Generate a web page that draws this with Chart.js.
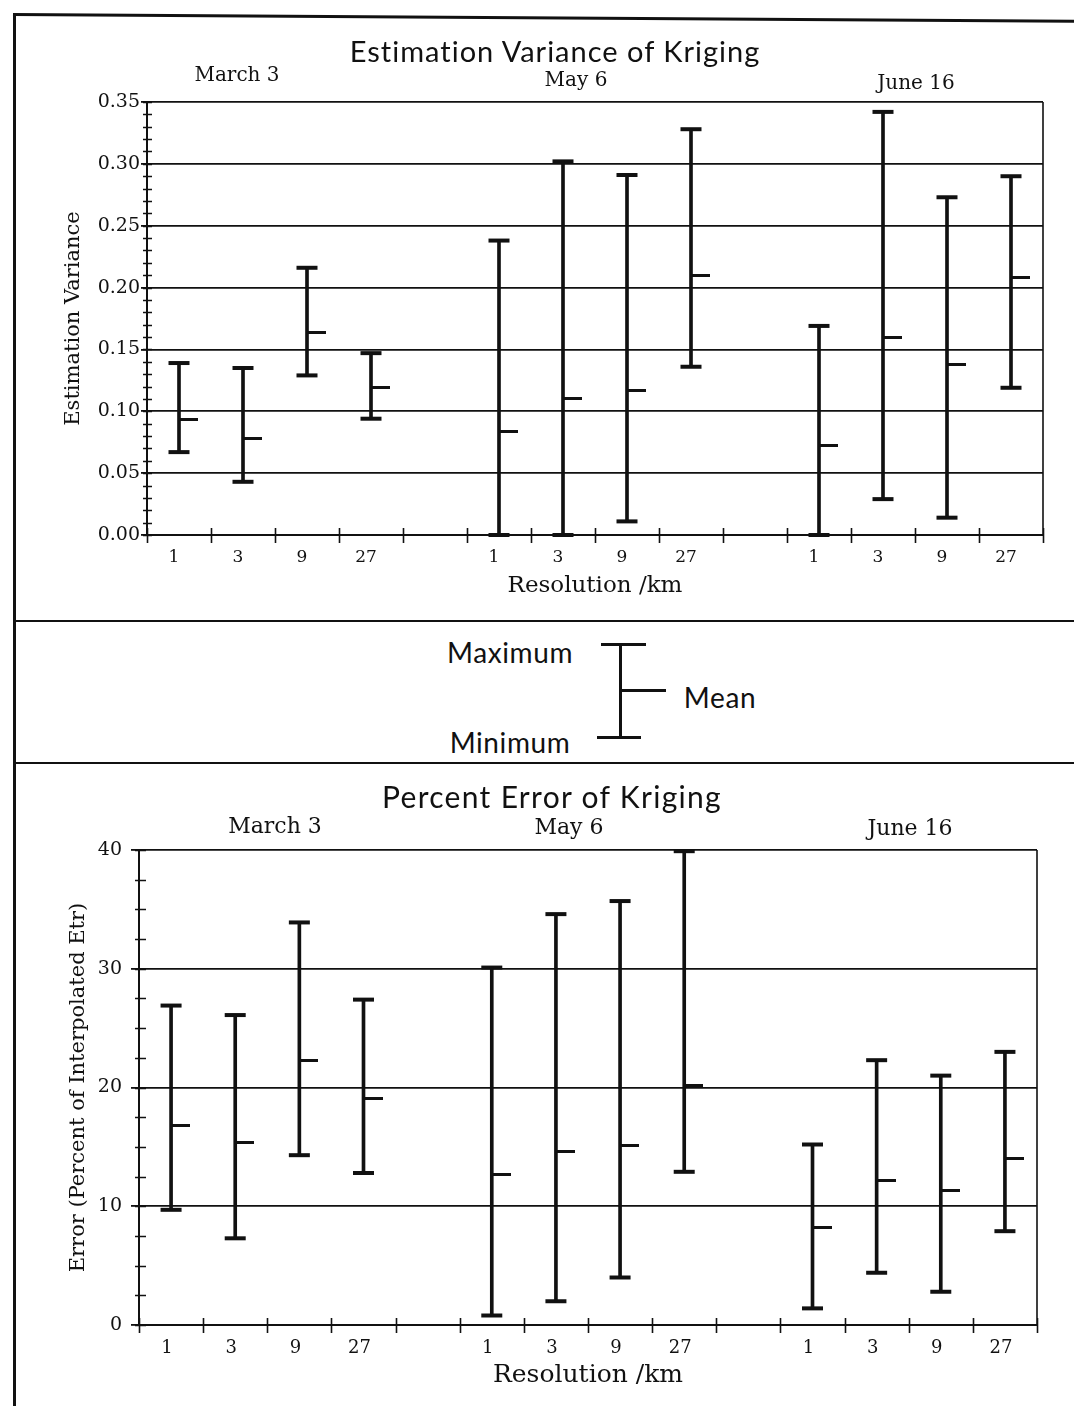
<!DOCTYPE html>
<html>
<head>
<meta charset="utf-8">
<script src="https://cdn.jsdelivr.net/npm/chart.js@4.4.1/dist/chart.umd.min.js"></script>
<style>
html,body{margin:0;padding:0;background:#fff;}
#page{position:relative;width:1074px;height:1406px;overflow:hidden;background:#fff;}
.t{position:absolute;transform:translate(-50%,-50%);white-space:nowrap;color:#111;line-height:1;z-index:2;}
.serif{font-family:"DejaVu Serif",serif;}
.sans{font-family:Lato,"Open Sans",sans-serif;}
.ln{position:absolute;background:#111;z-index:2;}
canvas{position:absolute;left:0;z-index:1;}
</style>
</head>
<body>
<div id="page">
  <!-- page frame -->
  <div class="ln" style="left:13px;top:14px;width:3px;height:1392px"></div>
  <div class="ln" style="left:13px;top:13px;width:1065px;height:3px;transform-origin:0 0;transform:rotate(0.36deg)"></div>
  <div class="ln" style="left:15px;top:620px;width:1059px;height:2px"></div>
  <div class="ln" style="left:15px;top:762px;width:1059px;height:2px"></div>

  <!-- top chart texts -->
  <div class="t sans" style="left:555px;top:50px;font-size:29px;letter-spacing:1px">Estimation Variance of Kriging</div>
  <div class="t serif" style="left:237px;top:74px;font-size:20px">March 3</div>
  <div class="t serif" style="left:576px;top:79px;font-size:20px">May 6</div>
  <div class="t serif" style="left:916px;top:82px;font-size:20px">June 16</div>

  <!-- legend -->
  <div class="t sans" style="left:510px;top:652px;font-size:28px;letter-spacing:0.6px">Maximum</div>
  <div class="t sans" style="left:720px;top:697px;font-size:28px;letter-spacing:0.6px">Mean</div>
  <div class="t sans" style="left:510px;top:742px;font-size:28px;letter-spacing:0.6px">Minimum</div>
  <div class="ln" style="left:619px;top:644px;width:3px;height:94px"></div>
  <div class="ln" style="left:601px;top:643px;width:45px;height:3px"></div>
  <div class="ln" style="left:620px;top:689px;width:46px;height:3px"></div>
  <div class="ln" style="left:597px;top:736px;width:44px;height:3px"></div>

  <!-- bottom chart texts -->
  <div class="t sans" style="left:552px;top:796px;font-size:30px;letter-spacing:1.3px">Percent Error of Kriging</div>
  <div class="t serif" style="left:275px;top:826px;font-size:22px">March 3</div>
  <div class="t serif" style="left:569px;top:827px;font-size:22px">May 6</div>
  <div class="t serif" style="left:910px;top:828px;font-size:22px">June 16</div>

  <canvas id="c1" width="1074" height="610" style="top:0"></canvas>
  <canvas id="c2" width="1074" height="636" style="top:770px"></canvas>
</div>
<script>
// ---- data ----
const dates = ['March 3', 'May 6', 'June 16'];
const resolutions = ['1', '3', '9', '27'];

// Estimation variance of kriging (March 3 | May 6 | June 16)
const varMax  = [0.139, 0.135, 0.216, 0.147,  0.238, 0.302, 0.291, 0.328,  0.169, 0.342, 0.273, 0.290];
const varMin  = [0.067, 0.043, 0.129, 0.094,  0.000, 0.000, 0.011, 0.136,  0.000, 0.029, 0.014, 0.119];
const varMean = [0.093, 0.078, 0.164, 0.119,  0.084, 0.110, 0.117, 0.210,  0.072, 0.160, 0.138, 0.208];

// Percent error of kriging (March 3 | May 6 | June 16)
const errMax  = [26.9, 26.1, 33.9, 27.4,  30.1, 34.6, 35.7, 39.9,  15.2, 22.3, 21.0, 23.0];
const errMin  = [ 9.7,  7.3, 14.3, 12.8,   0.8,  2.0,  4.0, 12.9,   1.4,  4.4,  2.8,  7.9];
const errMean = [16.8, 15.4, 22.3, 19.1,  12.7, 14.6, 15.1, 20.2,   8.2, 12.2, 11.3, 14.0];

const varTicks = {min: 0, max: 0.35, step: 0.05, minor: 0.01};
const errTicks = {min: 0, max: 40, step: 10, minor: 2.5};

// ---- helpers: spread the groups over category slots with an empty slot between dates ----
function slots(arr, blank) {
  const out = [];
  dates.forEach((d, g) => {
    if (g > 0) out.push(blank);
    for (let i = 0; i < resolutions.length; i++) out.push(arr[g * resolutions.length + i]);
  });
  return out;
}
const labels = slots(dates.flatMap(() => resolutions), '');

function meanMark(len, thick) {
  const c = document.createElement('canvas');
  c.width = len * 2; c.height = thick;
  const g = c.getContext('2d');
  g.fillStyle = '#111';
  g.fillRect(len - 1, 0, len + 1, thick);
  return c;
}

const ink = '#111';
Chart.defaults.font.family = '"DejaVu Serif", serif';
Chart.defaults.color = ink;

const axisMarks = {
  id: 'axisMarks',
  afterDraw(chart, args, o) {
    const {ctx, chartArea: a, scales: {x, y}} = chart;
    ctx.save();
    ctx.strokeStyle = ink;
    ctx.lineWidth = 1.6;
    ctx.beginPath();
    ctx.moveTo(a.right, a.top); ctx.lineTo(a.right, a.bottom);
    for (let i = 0; i <= x.ticks.length; i++) {
      const px = Math.round(x.getPixelForValue(i - 0.5)) + 0.5;
      ctx.moveTo(px, a.bottom - 7); ctx.lineTo(px, a.bottom + 8);
    }
    const n = Math.round((o.max - o.min) / o.minor);
    for (let k = 0; k <= n; k++) {
      const py = Math.round(y.getPixelForValue(o.min + k * o.minor)) + 0.5;
      ctx.moveTo(a.left - 4, py); ctx.lineTo(a.left + o.right, py);
    }
    ctx.stroke();
    ctx.restore();
  }
};

function makeChart(id, maxA, minA, meanA, t, cfg) {
  const bars = slots(maxA.map((v, i) => [minA[i], v]), null);
  const capDs = (data) => ({
    type: 'line', data: slots(data, null), showLine: false, clip: false,
    pointStyle: 'line', pointRadius: 10.5, pointHoverRadius: 10.5,
    pointBorderWidth: 4, pointHoverBorderWidth: 4, borderColor: ink, backgroundColor: ink
  });
  const mark = meanMark(19, 3);
  return new Chart(document.getElementById(id), {
    type: 'bar',
    data: {
      labels,
      datasets: [
        {label: 'Range', data: bars, backgroundColor: ink, borderWidth: 0, barThickness: 3},
        Object.assign(capDs(maxA), {label: 'Maximum'}),
        Object.assign(capDs(minA), {label: 'Minimum'}),
        {label: 'Mean', type: 'line', data: slots(meanA, null), showLine: false, clip: false,
         pointStyle: mark, pointRadius: 10, borderColor: ink, backgroundColor: ink}
      ]
    },
    options: {
      responsive: false, animation: false, events: [],
      layout: {padding: cfg.padding},
      plugins: {legend: {display: false}, tooltip: {enabled: false}, axisMarks: t},
      scales: {
        x: {
          offset: true,
          grid: {drawOnChartArea: false, drawTicks: false, color: ink},
          border: {display: true, color: ink, width: 2},
          ticks: {font: {size: cfg.xTickSize}, color: ink, padding: cfg.xTickPad, labelOffset: cfg.labelOffset,
                  autoSkip: false, maxRotation: 0},
          title: {display: true, text: 'Resolution /km', color: ink,
                  font: {size: cfg.xTitleSize}, padding: {top: 0, bottom: cfg.xTitlePad}},
          afterFit(s) { s.height = cfg.xHeight; }
        },
        y: {
          min: t.min, max: t.max,
          ticks: {stepSize: t.step, color: ink, font: {size: cfg.yTickSize}, padding: cfg.yTickPad,
                  callback: v => cfg.fmt(v)},
          grid: {color: ink, lineWidth: 1.8, tickLength: cfg.tickLength},
          border: {color: ink, width: 2},
          title: {display: true, text: cfg.yTitle, color: ink, font: {size: cfg.yTitleSize},
                  padding: {top: cfg.yTitlePad, bottom: 0}},
          afterFit(s) { s.width = cfg.yWidth; }
        }
      }
    },
    plugins: [axisMarks]
  });
}

makeChart('c1', varMax, varMin, varMean, Object.assign({right: 5}, varTicks), {
  padding: {top: 102, right: 31, left: 0, bottom: 0},
  xHeight: 75, yWidth: 147, xTickSize: 17, xTickPad: 12, labelOffset: -5,
  xTitleSize: 23, xTitlePad: 10, yTickSize: 19, yTickPad: 1, tickLength: 6,
  yTitle: 'Estimation Variance', yTitleSize: 21, yTitlePad: 61,
  fmt: v => v.toFixed(2)
});

makeChart('c2', errMax, errMin, errMean, Object.assign({right: 7}, errTicks), {
  padding: {top: 80, right: 37, left: 0, bottom: 0},
  xHeight: 81, yWidth: 139, xTickSize: 18, xTickPad: 13, labelOffset: -4,
  xTitleSize: 25, xTitlePad: 16, yTickSize: 19, yTickPad: 9, tickLength: 8,
  yTitle: 'Error (Percent of Interpolated Etr)', yTitleSize: 21, yTitlePad: 66,
  fmt: v => String(Math.round(v))
});
</script>
</body>
</html>
